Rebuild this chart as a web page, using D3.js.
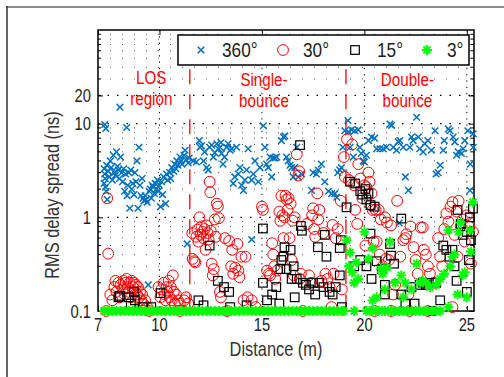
<!DOCTYPE html>
<html>
<head>
<meta charset="utf-8">
<script src="https://cdn.jsdelivr.net/npm/d3@7"></script>
<style>
  body { margin: 0; background: #fff; }
  text { font-family: "Liberation Sans", Arial, sans-serif; }
</style>
</head>
<body>
<div id="chart"></div>
<script>
// ---- data ----
const xTicks = [7, 10, 15, 20, 25];
const yTicks = [0.1, 1, 10, 20];
const seriesNames = ['360°', '30°', '15°', '3°'];
const xLabel = 'Distance (m)';
const yLabel = 'RMS delay spread (ns)';
const regionNames = [['LOS', 'region'], ['Single-', 'bounce'], ['Double-', 'bounce']];
const regionCenters = [9.6, 15.1, 22.1];
const boundaries = [11.48, 19.1];

const spread360 = [
  [7.33,9.8],[7.38,8.9],[7.3,3.3],[7.33,2.9],[7.35,2.6],[7.3,2.3],[7.37,2.1],[7.4,1.9],[7.45,1.55],[7.42,3.6],
  [7.5,3.1],[7.55,2.7],[7.6,4.0],[7.65,3.4],[7.7,2.5],[7.75,4.6],[7.8,3.0],[7.85,2.8],[7.9,5.0],[7.95,3.5],
  [8.0,3.2],[8.05,2.6],[8.1,4.4],[8.07,15],[8.15,3.0],[8.2,2.4],[8.25,3.3],[8.3,1.9],[8.35,2.9],[8.4,9.1],
  [8.42,1.7],[8.45,2.2],[8.5,3.0],[8.55,1.25],[8.6,3.2],[8.65,2.0],[8.7,2.3],[8.75,1.75],[8.8,3.0],[8.85,2.4],
  [8.9,4.0],[8.95,1.25],[9.0,5.6],[9.05,2.2],[9.1,1.7],[9.15,2.6],[9.2,1.6],[9.25,1.5],[9.3,1.7],[9.35,1.55],
  [9.4,1.45],[9.45,0.19],[9.5,1.9],[9.55,2.0],[9.6,1.6],[9.65,2.2],[9.7,2.1],[9.75,1.8],[9.8,2.3],[9.85,2.0],
  [9.9,2.5],[9.95,1.9],[10.0,2.2],[10.05,1.3],[10.1,2.4],[10.15,1.75],[10.2,2.7],[10.3,1.4],[10.35,2.9],[10.4,2.5],
  [10.5,3.0],[10.55,2.6],[10.6,3.4],[10.7,3.1],[10.75,3.7],[10.8,3.3],[10.85,4.0],[10.9,3.6],[11.0,4.4],[11.05,4.0],
  [11.1,3.7],[11.2,4.6],[11.25,5.2],[11.3,4.1],[11.35,0.52],[11.4,3.8],[11.45,4.3],
  [11.65,4.0],[11.8,3.9],[11.95,6.6],[11.98,5.6],[12.05,5.8],[12.15,4.0],[12.2,5.0],[12.3,3.4],[12.38,3.2],[12.45,5.6],
  [12.55,5.9],[12.63,4.4],[12.7,4.9],[12.8,6.1],[12.88,5.4],[12.95,5.6],[13.0,6.3],[13.03,4.8],[13.1,3.7],[13.18,4.4],
  [13.28,5.6],[13.35,6.1],[13.45,5.2],[13.52,5.4],[13.6,2.3],[13.68,2.7],[13.76,5.6],[13.85,2.9],[13.93,3.4],[14.01,2.2],
  [14.1,1.94],[14.17,2.5],[14.25,3.2],[14.33,5.4],[14.5,2.5],[14.5,0.58],[14.58,2.9],[14.66,4.0],[14.82,2.4],[14.9,3.4],
  [15.07,9.5],[15.15,5.6],[15.23,3.7],[15.31,3.4],[15.4,4.4],[15.48,2.7],[15.55,4.3],[15.63,4.3],[15.72,4.4],[15.95,6.6],
  [16.05,7.2],[16.12,7.4],[16.2,4.4],[16.28,4.0],[16.37,3.6],[16.45,3.4],[16.53,2.7],[16.6,3.4],[16.7,5.6],[16.77,2.7],
  [16.93,2.9],[17.42,1.94],[17.5,3.0],[17.66,2.9],[17.75,3.2],[17.9,3.7],[18.07,2.4],[18.25,1.9],[18.4,1.79],[18.56,1.79],
  [18.65,1.64],[18.7,3.0],[18.8,3.2],[18.88,3.4],[18.95,5.6],
  [19.05,8.4],[19.2,10.8],[19.22,8.2],[19.37,8.6],[19.53,8.4],[19.7,8.6],[19.3,5.6],[19.46,4.4],[19.78,5.6],[19.85,4.8],
  [19.95,4.0],[20.0,3.9],[20.1,4.6],[20.2,6.6],[20.35,7.2],[20.5,7.0],[20.6,5.4],[20.76,5.4],[20.92,5.4],[21.08,5.6],
  [21.25,9.9],[21.33,9.6],[21.41,5.6],[21.57,5.2],[21.65,6.4],[21.7,0.87],[21.73,6.6],[21.9,5.6],[22.0,2.7],[22.15,1.94],
  [22.22,5.6],[22.3,7.2],[22.38,6.6],[22.55,11.7],[22.63,7.2],[22.7,5.4],[22.87,5.0],[22.95,6.1],[23.1,6.6],[23.27,5.2],
  [23.45,8.4],[23.5,2.9],[23.6,3.0],[23.7,3.6],[23.85,5.2],[23.9,6.6],[24.1,8.8],[24.18,8.4],[24.33,7.2],[24.41,6.4],
  [24.5,4.6],[24.58,5.0],[24.74,4.8],[24.82,5.4],[24.9,6.6],[25.05,8.4],[25.15,1.94],[25.17,3.7],[25.31,7.8],[25.31,5.6]
];

const spread30 = [
  [7.45,1.6],[7.5,0.41],[7.4,0.1],
  [7.6,0.15],[7.7,0.13],[7.8,0.18],[7.85,0.21],[7.9,0.16],[8.0,0.2],[8.05,0.14],[8.1,0.19],[8.2,0.17],[8.25,0.21],
  [8.3,0.15],[8.35,0.2],[8.4,0.22],[8.45,0.18],[8.5,0.16],[8.55,0.2],[8.6,0.14],[8.65,0.21],[8.7,0.18],[8.75,0.2],
  [8.8,0.16],[8.85,0.19],[8.9,0.15],[8.95,0.18],[9.0,0.14],[9.05,0.16],[9.1,0.13],[9.15,0.15],[9.2,0.12],[9.3,0.13],
  [9.4,0.11],[9.5,0.1],
  [9.95,0.18],[10.05,0.14],[10.1,0.17],[10.2,0.2],[10.25,0.15],[10.3,0.13],[10.35,0.18],[10.4,0.16],[10.45,0.21],
  [10.5,0.14],[10.55,0.18],[10.6,0.13],[10.65,0.24],[10.7,0.16],[10.75,0.12],[10.8,0.15],[10.9,0.13],[11.0,0.12],
  [11.0,0.1],[11.2,0.13],[11.3,0.14],[11.4,0.12],
  [11.6,0.68],[11.62,0.36],[11.7,0.34],[11.75,0.33],[11.8,0.62],[11.85,0.74],[11.9,0.55],[11.95,1.0],[12.0,0.65],
  [12.05,0.8],[12.1,0.7],[12.15,0.6],[12.2,0.75],[12.25,0.45],[12.3,0.82],[12.35,0.68],[12.4,0.58],[12.45,2.4],
  [12.48,1.85],[12.5,0.72],[12.55,0.32],[12.6,0.24],[12.65,0.28],[12.7,0.95],[12.75,0.62],[12.8,1.4],[12.85,1.3],
  [12.9,0.98],[12.95,0.16],[13.0,0.14],[13.2,0.6],[13.3,0.1],[13.4,0.56],[13.5,0.3],[13.55,0.45],[13.6,0.25],
  [13.7,0.29],[13.8,0.52],[13.85,0.27],[13.9,0.23],[14.0,0.38],[14.1,0.13],[14.2,0.38],[14.3,0.14],[14.5,0.13],
  [14.7,0.11],
  [15.0,1.3],[15.05,1.2],[15.25,0.27],[15.35,0.25],[15.4,0.24],[15.5,0.53],[15.55,0.4],[15.6,0.3],[15.65,0.22],
  [15.75,0.27],[15.85,1.15],[15.9,0.92],[15.95,1.7],[16.0,1.05],[16.05,0.6],[16.1,1.0],[16.15,1.7],[16.2,1.55],
  [16.25,1.2],[16.3,1.6],[16.35,0.6],[16.4,1.4],[16.45,0.35],[16.5,0.92],[16.55,0.24],[16.6,1.0],[16.7,4.7],
  [16.78,2.8],[16.82,3.1],[16.85,0.22],[16.9,0.25],[17.0,0.1],
  [17.2,0.85],[17.3,0.24],[17.4,0.2],[17.45,1.05],[17.5,1.25],[17.55,0.75],[17.6,0.62],[17.7,1.8],[17.75,0.95],
  [17.8,1.2],[17.9,0.21],[18.0,0.68],[18.1,0.25],[18.2,0.22],[18.3,0.18],[18.4,0.11],[18.45,0.83],[18.5,0.25],
  [18.6,0.6],[18.7,0.75],[18.85,1.5],[18.9,0.17],
  [19.0,4.4],[19.05,2.7],[19.15,6.8],[19.25,2.5],[19.4,6.0],[19.5,2.2],[19.55,1.2],[19.65,0.85],[19.7,3.7],
  [19.8,2.6],[19.9,1.6],[20.0,2.2],[20.05,0.5],[20.1,2.1],[20.2,3.0],[20.25,2.4],[20.3,1.35],[20.35,1.8],
  [20.4,1.2],[20.45,0.55],[20.5,0.1],[20.55,1.2],[20.6,0.55],[20.7,1.2],[20.75,0.4],[20.8,0.95],[20.9,0.3],
  [21.0,1.0],[21.05,0.36],[21.1,0.88],[21.2,0.35],[21.3,0.82],[21.3,0.1],[21.4,0.15],[21.5,0.19],[21.6,1.5],
  [21.75,0.38],[21.9,0.57],[22.0,0.6],[22.05,0.66],[22.15,0.15],[22.2,0.1],[22.25,0.8],[22.4,0.48],[22.5,0.35],
  [22.6,0.25],[22.75,0.78],[22.85,0.78],[22.9,0.45],[23.0,0.4],[23.1,0.3],[23.1,0.1],[23.2,0.25],[23.4,0.2],
  [23.6,0.6],[23.7,0.38],[23.8,0.3],[23.9,0.75],[24.0,1.1],[24.1,0.9],[24.2,1.3],[24.3,1.45],[24.3,0.11],
  [24.4,0.65],[24.5,1.15],[24.55,0.38],[24.6,1.5],[24.7,0.8],[24.8,0.95],[24.9,0.55],[25.0,1.05],[25.1,0.8],
  [25.2,0.32],[25.3,0.7]
];

const spread15 = [
  [8.0,0.14],[8.07,0.145],[8.5,0.14],[8.6,0.12],[8.75,0.16],[8.8,0.13],[9.2,0.11],[9.6,0.11],[10.05,0.155],
  [11.9,0.13],[12.15,0.115],[12.45,0.5],[12.85,0.21],[13.15,0.18],[13.4,0.16],[13.45,0.11],[14.25,0.115],
  [15.05,0.76],[15.05,0.2],[15.25,0.13],[15.5,0.15],[15.7,0.18],[15.85,0.12],[15.9,0.28],[15.95,0.35],[16.05,0.38],
  [16.1,0.48],[16.2,0.28],[16.4,0.45],[16.45,0.22],[16.55,0.3],[16.6,0.14],[16.7,0.22],[16.86,5.9],[16.9,0.81],
  [16.95,0.72],[17.0,0.2],[17.15,0.19],[17.3,0.17],[17.5,0.2],[17.6,0.15],[17.73,0.48],[17.8,0.2],[18.0,0.18],
  [18.07,0.65],[18.15,0.38],[18.3,0.16],[18.45,0.15],[18.6,0.18],[18.8,0.24],[18.8,0.47],[18.85,0.57],[18.9,0.11],
  [19.13,1.28],[19.3,2.4],[19.5,0.3],[19.55,2.3],[19.8,1.9],[19.8,0.35],[19.9,1.75],[20.05,2.0],[20.1,1.55],
  [20.1,0.3],[20.2,1.8],[20.3,1.35],[20.3,0.67],[20.35,0.22],[20.5,1.3],[20.6,0.34],[20.85,0.28],[21.0,0.19],
  [21.0,0.15],[21.25,0.52],[21.3,0.39],[21.45,0.32],[21.8,0.97],[21.8,0.15],[22.0,0.12],[22.3,0.18],[22.45,0.12],
  [22.7,0.19],[22.85,0.2],[23.0,0.19],[23.15,0.2],[23.3,0.1],[23.5,0.2],[23.7,0.13],[23.85,0.5],[24.0,0.45],
  [24.15,0.38],[24.3,0.45],[24.4,0.3],[24.5,0.21],[24.55,1.2],[24.7,0.85],[24.8,0.65],[25.0,0.16],[25.0,0.7],
  [25.1,0.35],[25.15,1.0],[25.2,0.57],[25.3,1.24]
];

const spread3 = [
  [7.3,0.1],[7.5,0.1],[7.7,0.1],[7.9,0.1],[8.1,0.1],[8.3,0.1],[8.5,0.1],[8.7,0.1],[8.9,0.1],[9.1,0.1],
  [9.3,0.1],[9.5,0.1],[9.7,0.1],[9.9,0.1],[10.1,0.1],[10.3,0.1],[10.5,0.1],[10.7,0.1],[10.9,0.1],[11.1,0.1],
  [11.3,0.1],[11.5,0.1],[11.7,0.1],[11.9,0.1],[12.1,0.1],[12.3,0.1],[12.5,0.1],[12.7,0.1],[12.9,0.1],[13.1,0.1],
  [13.3,0.1],[13.5,0.1],[13.7,0.1],[13.9,0.1],[14.1,0.1],[14.3,0.1],[14.5,0.1],[14.7,0.1],[14.9,0.1],[15.1,0.1],
  [15.3,0.1],[15.5,0.1],[15.7,0.1],[15.9,0.1],[16.1,0.1],[16.3,0.1],[16.5,0.1],[16.7,0.1],[16.9,0.1],[17.1,0.1],
  [17.3,0.1],[17.5,0.1],[17.7,0.1],[17.9,0.1],[18.1,0.1],[18.3,0.1],[18.5,0.1],[18.7,0.1],[18.9,0.1],[19.0,0.1],
  [19.5,0.1],[20.1,0.1],[20.25,0.1],[20.4,0.1],[20.55,0.1],[20.7,0.1],[20.85,0.1],[21.0,0.1],[21.15,0.1],[21.3,0.1],
  [21.5,0.1],[21.7,0.1],[21.9,0.1],[22.1,0.1],[22.3,0.1],[22.5,0.1],[22.7,0.1],[22.9,0.1],[23.1,0.1],[23.3,0.1],
  [23.5,0.1],[23.7,0.1],
  [19.13,0.57],[19.25,0.3],[19.3,0.42],[19.4,0.26],[19.5,0.2],[19.6,0.33],[19.7,0.22],[20.0,0.7],[20.2,0.36],
  [20.4,0.47],[20.4,0.13],[20.6,0.14],[20.8,0.28],[20.9,0.25],[21.0,0.17],[21.1,0.29],[21.25,0.55],[21.5,0.2],
  [21.8,0.24],[21.9,0.14],[22.0,0.2],[22.3,0.17],[22.55,0.32],[22.7,0.2],[22.85,0.21],[23.0,0.2],[23.2,0.18],
  [23.5,0.19],[23.7,0.22],[23.9,0.25],[24.1,0.73],[24.1,0.11],[24.2,0.3],[24.3,0.38],[24.4,0.4],[24.55,0.15],
  [24.6,0.7],[24.7,0.88],[24.8,0.24],[24.9,0.26],[25.0,0.14],[25.15,0.73],[25.2,0.43],[25.3,1.45]
];

// ---- layout ----
const width = 504, height = 377;
const plot = {left: 98, right: 474, top: 30, bottom: 311};
const squeeze = 0.82;   // narrow face look

const svg = d3.select('#chart').append('svg')
  .attr('width', width)
  .attr('height', height)
  .style('display', 'block');

svg.append('rect').attr('width', width).attr('height', height).attr('fill', '#fff');

// page frame remnants
svg.append('line').attr('x1', 6).attr('x2', width).attr('y1', 7).attr('y2', 7)
  .attr('stroke', '#8c8c8c').attr('stroke-width', 2);
svg.append('line').attr('x1', 7).attr('x2', 7).attr('y1', 6).attr('y2', height)
  .attr('stroke', '#333').attr('stroke-width', 1.5);

const x = d3.scaleLinear().domain([7, 25.35]).range([plot.left, plot.right]);
const y = d3.scaleLog().domain([0.1, 100]).range([plot.bottom, plot.top]);

function label(g, tx, ty, str, size, anchor, color, rot) {
  return g.append('text')
    .attr('transform', 'translate(' + tx + ',' + ty + ')' + (rot ? ' rotate(' + rot + ')' : '') + ' scale(' + squeeze + ',1)')
    .attr('text-anchor', anchor)
    .attr('font-size', size)
    .attr('fill', color)
    .text(str);
}

// minor log positions
let minors = [];
[0.1, 1, 10].forEach(dec => {
  for (let k = 2; k <= 9; k++) minors.push(dec * k);
});

// grid
const grid = svg.append('g');
grid.selectAll('.hminor')
  .data(minors.filter(v => yTicks.indexOf(v) < 0))
  .enter().append('line')
  .attr('x1', plot.left).attr('x2', plot.right)
  .attr('y1', d => y(d)).attr('y2', d => y(d))
  .attr('stroke', '#555').attr('stroke-width', 1)
  .attr('stroke-dasharray', '1,11');
grid.selectAll('.hmajor')
  .data(yTicks.filter(v => v > 0.1))
  .enter().append('line')
  .attr('x1', plot.left).attr('x2', plot.right)
  .attr('y1', d => y(d)).attr('y2', d => y(d))
  .attr('stroke', '#000').attr('stroke-width', 1.3)
  .attr('stroke-dasharray', '1.5,8');
grid.selectAll('.vmajor')
  .data(xTicks.filter(v => v > 7))
  .enter().append('line')
  .attr('x1', d => x(d)).attr('x2', d => x(d))
  .attr('y1', plot.top).attr('y2', plot.bottom)
  .attr('stroke', '#000').attr('stroke-width', 1)
  .attr('stroke-dasharray', '1.3,5');

// axes (tick marks from d3, labels drawn narrow)
const xAxis = svg.append('g')
  .attr('transform', 'translate(0,' + plot.bottom + ')')
  .call(d3.axisBottom(x).tickValues(xTicks).tickFormat('').tickSize(-5));
const xAxisTop = svg.append('g')
  .attr('transform', 'translate(0,' + plot.top + ')')
  .call(d3.axisTop(x).tickValues(xTicks).tickFormat('').tickSize(-5));
const yAxis = svg.append('g')
  .attr('transform', 'translate(' + plot.left + ',0)')
  .call(d3.axisLeft(y).tickValues(yTicks).tickFormat('').tickSize(-5));
const yAxisRight = svg.append('g')
  .attr('transform', 'translate(' + plot.right + ',0)')
  .call(d3.axisRight(y).tickValues(yTicks).tickFormat('').tickSize(-5));

[xAxis, xAxisTop, yAxis, yAxisRight].forEach(a => {
  a.select('.domain').remove();
  a.selectAll('line').attr('stroke', '#000').attr('stroke-width', 1);
});

const tickLabels = svg.append('g');
xTicks.forEach(v => label(tickLabels, x(v), plot.bottom + 20, String(v), 18, 'middle', '#222'));
yTicks.forEach(v => label(tickLabels, plot.left - 7, y(v) + 6.5, String(v), 18, 'end', '#222'));

// minor y ticks, both sides
svg.append('g').selectAll('line')
  .data(minors)
  .enter().append('line')
  .attr('x1', plot.left).attr('x2', plot.left + 3)
  .attr('y1', d => y(d)).attr('y2', d => y(d))
  .attr('stroke', '#000');
svg.append('g').selectAll('line')
  .data(minors)
  .enter().append('line')
  .attr('x1', plot.right).attr('x2', plot.right - 3)
  .attr('y1', d => y(d)).attr('y2', d => y(d))
  .attr('stroke', '#000');

// box
svg.append('rect')
  .attr('x', plot.left).attr('y', plot.top)
  .attr('width', plot.right - plot.left).attr('height', plot.bottom - plot.top)
  .attr('fill', 'none').attr('stroke', '#000').attr('stroke-width', 1.5);

// region annotations
const ann = svg.append('g');
ann.selectAll('.bound')
  .data(boundaries)
  .enter().append('line')
  .attr('x1', d => x(d)).attr('x2', d => x(d))
  .attr('y1', y(38)).attr('y2', y(0.1))
  .attr('stroke', '#ff0000').attr('stroke-width', 1.3)
  .attr('stroke-dasharray', '15,10');
regionNames.forEach((lines, i) => {
  const base = i === 0 ? 84 : 86;
  lines.forEach((s, j) => {
    label(ann, x(regionCenters[i]), base + j * 20.8, s, 18.5, 'middle', '#ff0000');
  });
});

// markers
const markerPath = {
  cross: 'M-3.3,-3.3L3.3,3.3M-3.3,3.3L3.3,-3.3',
  star: 'M-5,0H5M0,-5V5M-3.5,-3.5L3.5,3.5M-3.5,3.5L3.5,-3.5'
};

function drawCross(g, data) {
  g.selectAll('path').data(data).enter().append('path')
    .attr('transform', d => 'translate(' + x(d[0]) + ',' + y(d[1]) + ')')
    .attr('d', markerPath.cross)
    .attr('stroke', '#0072bd').attr('stroke-width', 1.5).attr('fill', 'none');
}
function drawCircle(g, data) {
  g.selectAll('circle').data(data).enter().append('circle')
    .attr('cx', d => x(d[0])).attr('cy', d => y(d[1])).attr('r', 5.4)
    .attr('stroke', '#ff0000').attr('stroke-width', 1).attr('fill', 'none');
}
function drawSquare(g, data) {
  g.selectAll('rect').data(data).enter().append('rect')
    .attr('x', d => x(d[0]) - 4.3).attr('y', d => y(d[1]) - 4.3)
    .attr('width', 8.6).attr('height', 8.6)
    .attr('stroke', '#000').attr('stroke-width', 1.2).attr('fill', 'none');
}
function drawStar(g, data) {
  g.selectAll('path').data(data).enter().append('path')
    .attr('transform', d => 'translate(' + x(d[0]) + ',' + y(d[1]) + ')')
    .attr('d', markerPath.star)
    .attr('stroke', '#00ff00').attr('stroke-width', 1.9).attr('fill', 'none');
}

drawCross(svg.append('g'), spread360);
drawCircle(svg.append('g'), spread30);
drawSquare(svg.append('g'), spread15);
drawStar(svg.append('g'), spread3);

// legend
const legend = svg.append('g');
legend.append('rect')
  .attr('x', 178).attr('y', 35).attr('width', 291).attr('height', 30)
  .attr('fill', '#fff').attr('stroke', '#000').attr('stroke-width', 1.5);
const legMarkX = [201, 283, 355, 427];
const legTextX = [222, 303, 377, 447];
const drawers = [drawCross, drawCircle, drawSquare, drawStar];
seriesNames.forEach((name, i) => {
  drawers[i](legend.append('g'), [[x.invert(legMarkX[i]), y.invert(50)]]);
  label(legend, legTextX[i], 57, name, 21, 'start', '#222');
});

// axis labels
label(svg, 276, 356, xLabel, 20, 'middle', '#333');
label(svg, 59, 195, yLabel, 20, 'middle', '#333', -90);
</script>
</body>
</html>
